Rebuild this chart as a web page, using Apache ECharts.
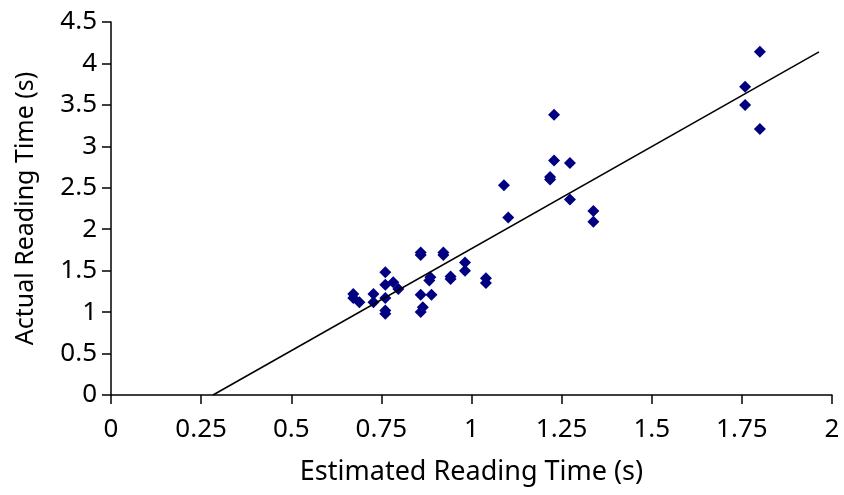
<!DOCTYPE html>
<html>
<head>
<meta charset="utf-8">
<script src="https://cdn.jsdelivr.net/npm/echarts@6/dist/echarts.min.js"></script>
<style>
  html, body { margin: 0; padding: 0; background: #fff; }
  #chart { width: 844px; height: 495px; }
</style>
</head>
<body>
<div id="chart"></div>
<script>
// estimated vs actual reading time (s)
const estimated = [0.672, 0.672, 0.689, 0.728, 0.728, 0.761, 0.761, 0.761, 0.761, 0.761,
  0.783, 0.797, 0.859, 0.859, 0.859, 0.865, 0.859, 0.886, 0.883, 0.889,
  0.922, 0.922, 0.942, 0.942, 0.982, 0.982, 1.040, 1.040, 1.090, 1.102,
  1.218, 1.218, 1.229, 1.229, 1.273, 1.273, 1.338, 1.338, 1.759, 1.759,
  1.800, 1.800];
const actual = [1.22, 1.17, 1.12, 1.22, 1.12, 1.48, 1.33, 1.17, 1.02, 0.98,
  1.36, 1.28, 1.72, 1.69, 1.21, 1.06, 1.00, 1.42, 1.38, 1.21,
  1.72, 1.69, 1.43, 1.40, 1.60, 1.50, 1.41, 1.35, 2.53, 2.14,
  2.63, 2.60, 3.38, 2.83, 2.80, 2.36, 2.22, 2.09, 3.72, 3.50,
  4.14, 3.21];
// trend line end points
const trendX = [0.283, 1.964];
const trendY = [0, 4.14];

const xTicks = ['0', '0.25', '0.5', '0.75', '1', '1.25', '1.5', '1.75', '2'];

const chart = echarts.init(document.getElementById('chart'));
const font = 'Noto Sans';
const axisStyle = {
  axisLine: { show: true, onZero: false, lineStyle: { color: '#000', width: 1.5 } },
  axisTick: { show: true, length: 9, lineStyle: { color: '#000', width: 1.5 } },
  splitLine: { show: false }
};

const option = {
  animation: false,
  grid: { left: 111, right: 12, top: 22, bottom: 100, outerBoundsMode: 'none', containLabel: false },
  xAxis: {
    type: 'value',
    min: 0, max: 2, interval: 0.25,
    ...axisStyle,
    axisLabel: {
      color: '#000', fontFamily: font, fontSize: 26, margin: 22,
      formatter: (v) => xTicks[Math.round(v / 0.25)]
    },
    name: 'Estimated Reading Time (s)',
    nameLocation: 'middle',
    nameGap: 64,
    nameTextStyle: { color: '#000', fontFamily: font, fontSize: 27 }
  },
  yAxis: {
    type: 'value',
    min: 0, max: 4.5, interval: 0.5,
    ...axisStyle,
    axisLabel: { color: '#000', fontFamily: font, fontSize: 26, margin: 14 },
    name: 'Actual Reading Time (s)',
    nameLocation: 'middle',
    nameGap: 73,
    nameTextStyle: { color: '#000', fontFamily: font, fontSize: 25 }
  },
  series: [
    {
      type: 'scatter',
      symbol: 'diamond',
      symbolSize: 12,
      itemStyle: { color: '#000080', opacity: 1 },
      data: estimated.map((x, i) => [x, actual[i]])
    },
    {
      type: 'line',
      symbol: 'none',
      lineStyle: { color: '#000', width: 1.5 },
      data: trendX.map((x, i) => [x, trendY[i]])
    }
  ]
};
chart.setOption(option);
</script>
</body>
</html>
